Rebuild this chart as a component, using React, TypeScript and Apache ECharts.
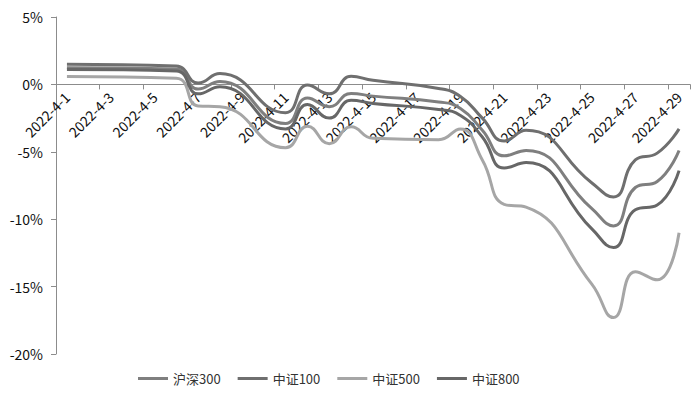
import React, { useEffect, useRef } from "react";
import * as echarts from "echarts";

const dates = [
  "2022-4-1", "2022-4-2", "2022-4-3", "2022-4-4", "2022-4-5", "2022-4-6", "2022-4-7", "2022-4-8",
  "2022-4-9", "2022-4-10", "2022-4-11", "2022-4-12", "2022-4-13", "2022-4-14", "2022-4-15",
  "2022-4-16", "2022-4-17", "2022-4-18", "2022-4-19", "2022-4-20", "2022-4-21", "2022-4-22",
  "2022-4-23", "2022-4-24", "2022-4-25", "2022-4-26", "2022-4-27", "2022-4-28", "2022-4-29",
];

// null = non-trading day (holiday / weekend)
const hs300 = [1.23, null, null, null, null, 1.14, -0.35, 0.22, null, null, -2.9, -1.0, -1.65, -0.67, -0.87, null, null, -1.3, -1.78, -3.4, -5.3, -4.9, null, null, -9.2, -10.5, -7.65, -7.2, -4.9];
const zz100 = [1.49, null, null, null, null, 1.36, 0.1, 0.8, null, null, -2.1, -0.05, -0.7, 0.6, 0.3, null, null, -0.3, -0.9, -2.5, -4.2, -3.4, null, null, -7.3, -8.35, -5.6, -5.1, -3.3];
const zz500 = [0.59, null, null, null, null, 0.45, -1.6, -1.65, null, null, -4.7, -3.1, -4.4, -3.15, -4.0, null, null, -4.1, -3.3, -5.6, -8.9, -9.1, null, null, -14.8, -17.3, -13.9, -14.5, -11.0];
const zz800 = [1.1, null, null, null, null, 0.99, -0.7, -0.18, null, null, -3.3, -1.5, -2.5, -1.17, -1.41, null, null, -1.86, -2.3, -3.9, -6.2, -5.8, null, null, -10.7, -12.1, -9.3, -8.95, -6.4];

const yMin = -20;
const yMax = 5;
const yStep = 5;

const seriesNames = ["沪深300", "中证100", "中证500", "中证800"];
const seriesColors = ["#7f7f7f", "#6f6f6f", "#a6a6a6", "#676767"];
const seriesData = [hs300, zz100, zz500, zz800];

export default function App() {
  const ref = useRef<HTMLDivElement>(null);
  useEffect(() => {
    if (!ref.current) return;
    const chart = echarts.init(ref.current, null, { renderer: "svg" });
    const font = "'Noto Sans CJK SC', 'Open Sans', sans-serif";
    const gridTop = 17;
    const gridBottom = 40;
    const plotH = 394 - gridTop - gridBottom;
    // distance (px) from bottom of plot to the 0% line
    const zeroOffset = (plotH * (0 - yMin)) / (yMax - yMin);
    chart.setOption({
      animation: false,
      backgroundColor: "#ffffff",
      grid: { left: 56, right: 10, top: gridTop, bottom: gridBottom, containLabel: false },
      legend: {
        top: 367,
        left: 133,
        itemWidth: 30,
        itemHeight: 3,
        itemGap: 17,
        icon: "rect",
        textStyle: { fontFamily: font, fontSize: 13, color: "#333" },
        data: seriesNames,
      },
      xAxis: {
        type: "category",
        data: dates,
        boundaryGap: true,
        position: "bottom",
        offset: -zeroOffset,
        z: 0,
        axisLine: { onZero: false, lineStyle: { color: "#8c8c8c", width: 1 } },
        axisTick: { show: true, interval: 1, length: 5, lineStyle: { color: "#8c8c8c" } },
        axisLabel: {
          interval: 1,
          rotate: 45,
          fontFamily: font,
          fontSize: 14,
          color: "#111",
          margin: 10,
        },
        splitLine: { show: false },
      },
      yAxis: {
        type: "value",
        min: yMin,
        max: yMax,
        interval: yStep,
        axisLine: { show: true, lineStyle: { color: "#8c8c8c", width: 1 } },
        axisTick: { show: true, length: 5, lineStyle: { color: "#8c8c8c" } },
        axisLabel: {
          formatter: (v: number) => `${v}%`,
          fontFamily: font,
          fontSize: 14,
          color: "#111",
          margin: 13,
        },
        splitLine: { show: false },
      },
      series: seriesNames.map((name, i) => ({
        name,
        type: "line",
        data: seriesData[i],
        smooth: 0.5,
        connectNulls: true,
        showSymbol: false,
        symbol: "none",
        lineStyle: { color: seriesColors[i], width: 3 },
        itemStyle: { color: seriesColors[i] },
        z: i === 2 ? 3 : 4,
      })),
    });
    return () => chart.dispose();
  }, []);
  return (
    <div
      ref={ref}
      style={{ position: "fixed", left: 0, top: 0, width: 700, height: 394 }}
    />
  );
}
